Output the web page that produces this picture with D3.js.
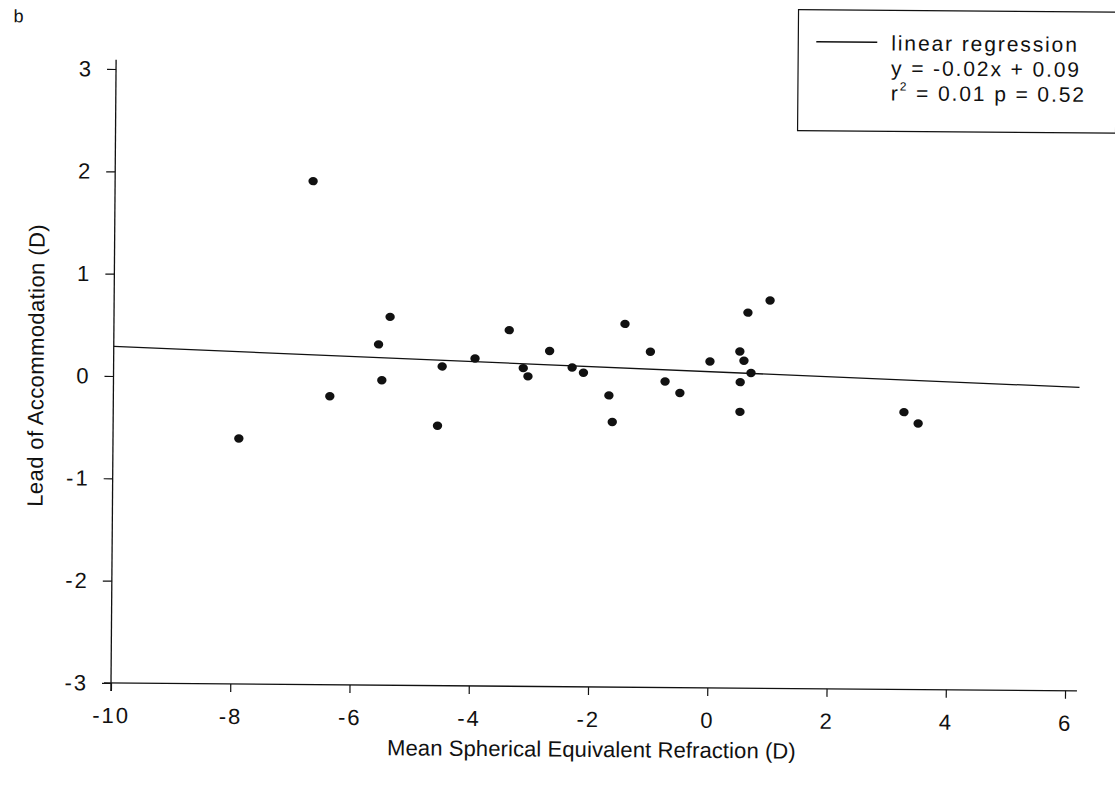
<!DOCTYPE html>
<html>
<head>
<meta charset="utf-8">
<script src="https://cdn.jsdelivr.net/npm/d3@7/dist/d3.min.js"></script>
<style>
  html, body { margin: 0; padding: 0; background: #fff; }
  svg { display: block; }
  text { font-family: "Liberation Sans", Arial, sans-serif; fill: #111; }
</style>
</head>
<body>
<svg id="chart" width="1115" height="793"></svg>
<script>
// Data
const refraction = [-7.89, -6.68, -6.37, -5.56, -5.37, -5.50, -4.56, -4.49, -3.94, -3.37, -3.13, -3.05, -2.69, -2.31, -2.12, -1.69, -1.63, -1.43, -1.00, -0.75, -0.50, 0.00, 0.50, 0.57, 0.69, 0.51, 0.51, 0.63, 1.00, 3.26, 3.50];
const leadOfAccommodation = [-0.60, 1.92, -0.18, 0.33, 0.60, -0.02, -0.46, 0.12, 0.20, 0.48, 0.11, 0.03, 0.28, 0.12, 0.07, -0.15, -0.41, 0.55, 0.28, -0.01, -0.12, 0.19, 0.29, 0.20, 0.08, -0.01, -0.30, 0.67, 0.79, -0.29, -0.40];
const xTicks = [-10, -8, -6, -4, -2, 0, 2, 4, 6];
const yTicks = [-3, -2, -1, 0, 1, 2, 3];
const regressionSlope = -0.02;
const regressionIntercept = 0.09;
const legendLines = ["linear regression", "y = -0.02x + 0.09", "r² = 0.01 p = 0.52"];
const xTitle = "Mean Spherical Equivalent Refraction (D)";
const yTitle = "Lead of Accommodation (D)";
const panelLabel = "b";

const svg = d3.select("#chart");
// scanned figure is slightly rotated
const g = svg.append("g").attr("transform", "rotate(0.47,111,683)");

const x = d3.scaleLinear().domain([-10, 6.2]).range([111, 1077]);
const y = d3.scaleLinear().domain([-3, 3]).range([683, 69]);
const fmt = d => String(d);
const FONT = '"Liberation Sans", Arial, sans-serif';

// axis lines
g.append("line").attr("x1", x(-10) - 7).attr("x2", x(6.2))
  .attr("y1", y(-3)).attr("y2", y(-3)).attr("stroke", "#111").attr("stroke-width", 1.3);
g.append("line").attr("x1", x(-10)).attr("x2", x(-10))
  .attr("y1", y(-3) + 8).attr("y2", y(3.09)).attr("stroke", "#111").attr("stroke-width", 1.3);

const xAxis = d3.axisBottom(x).tickValues(xTicks).tickSize(8).tickSizeOuter(0).tickPadding(32)
  .tickFormat(fmt);
const gx = g.append("g").attr("transform", `translate(0,${y(-3)})`).call(xAxis);
gx.select(".domain").remove();
gx.selectAll(".tick line").attr("stroke", "#111").attr("stroke-width", 1.2);
gx.selectAll(".tick text").attr("font-size", 22).attr("letter-spacing", 2)
  .style("font-family", FONT).attr("fill", "#111").attr("dy", 0);

const yAxis = d3.axisLeft(y).tickValues(yTicks).tickSize(9).tickSizeOuter(0).tickPadding(14)
  .tickFormat(fmt);
const gy = g.append("g").attr("transform", `translate(${x(-10)},0)`).call(yAxis);
gy.select(".domain").remove();
gy.selectAll(".tick line").attr("stroke", "#111").attr("stroke-width", 1.2);
gy.selectAll(".tick text").attr("font-size", 22).attr("letter-spacing", 2)
  .style("font-family", FONT).attr("fill", "#111");

// regression line
g.append("line")
  .attr("x1", x(-10)).attr("y1", y(regressionSlope * -10 + regressionIntercept))
  .attr("x2", x(6.2)).attr("y2", y(regressionSlope * 6.2 + regressionIntercept))
  .attr("stroke", "#111").attr("stroke-width", 1.3);

// points
g.append("g").selectAll("ellipse").data(refraction.map((v, i) => [v, leadOfAccommodation[i]]))
  .join("ellipse")
  .attr("cx", d => x(d[0])).attr("cy", d => y(d[1]))
  .attr("rx", 4.7).attr("ry", 4.2).attr("fill", "#111");

// titles
g.append("text").attr("x", 592).attr("y", 753).attr("text-anchor", "middle")
  .attr("font-size", 22).attr("letter-spacing", 0.1).text(xTitle);
g.append("text").attr("transform", "translate(41,366) rotate(-90)").attr("text-anchor", "middle")
  .attr("font-size", 22).attr("letter-spacing", 0.4).text(yTitle);
g.append("text").attr("x", 8).attr("y", 23).attr("font-size", 18).text(panelLabel);

// legend
const lg = g.append("g");
lg.append("rect").attr("x", 793).attr("y", 4).attr("width", 318).attr("height", 121)
  .attr("fill", "none").attr("stroke", "#111").attr("stroke-width", 1.2);
lg.append("line").attr("x1", 811).attr("x2", 872).attr("y1", 36).attr("y2", 36)
  .attr("stroke", "#111").attr("stroke-width", 1.3);
const lt = lg.append("text").attr("font-size", 21).attr("letter-spacing", 1.9);
lt.append("tspan").attr("x", 886).attr("y", 44).text(legendLines[0]);
lt.append("tspan").attr("x", 886).attr("y", 69).text(legendLines[1]);
const t3 = lg.append("text").attr("font-size", 21).attr("letter-spacing", 1.9).attr("x", 886).attr("y", 94);
t3.append("tspan").text("r");
t3.append("tspan").attr("font-size", 12).attr("dy", -10).text("2");
t3.append("tspan").attr("dy", 10).text(" = 0.01 p = 0.52");
</script>
</body>
</html>
